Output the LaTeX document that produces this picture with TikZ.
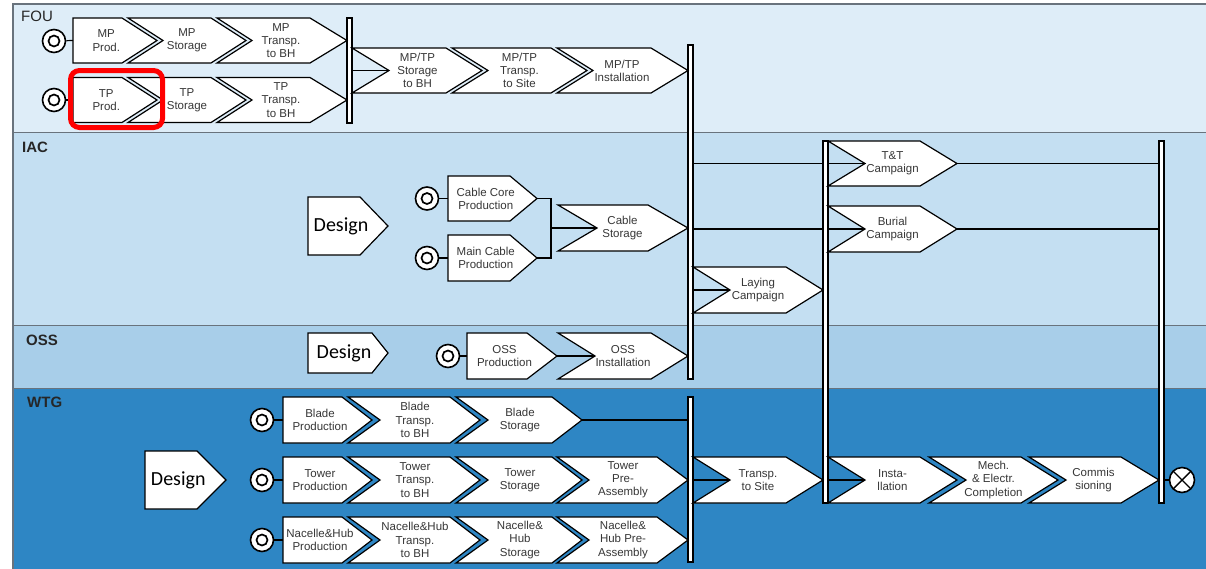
\documentclass[tikz,border=0pt]{standalone}
\usepackage{fontspec}
\setmainfont{Liberation Sans}
\newfontfamily\designfont{Carlito}
\definecolor{foubg}{RGB}{222,237,248}
\definecolor{iacbg}{RGB}{196,223,242}
\definecolor{ossbg}{RGB}{168,206,233}
\definecolor{wtgbg}{RGB}{46,134,196}
\definecolor{lanegray}{RGB}{105,115,125}
\definecolor{txtgray}{RGB}{55,55,55}
\tikzset{
  chevstyle/.style={draw=black, line width=1.2pt, fill=white, line join=miter},
  lbl/.style={align=center, inner sep=0pt, text=txtgray, font=\fontsize{11.5}{13.2}\selectfont},
  barbox/.style={draw=black, line width=1.2pt, fill=white, rectangle, inner sep=0pt, minimum width=5pt},
  conn/.style={draw=black, line width=1.2pt},
  startc/.style={circle, draw=black, line width=1.6pt, fill=white, minimum size=23pt, inner sep=0pt,
    path picture={\draw[line width=1.7pt] (path picture bounding box.center) circle[radius=5.5pt];}},
  endcirc/.style={circle, draw=black, line width=1.6pt, fill=white, minimum size=25pt, inner sep=0pt,
    path picture={\draw[line width=1.4pt] (path picture bounding box.north west) -- (path picture bounding box.south east)
      (path picture bounding box.north east) -- (path picture bounding box.south west);}},
  lanelbl/.style={anchor=west, inner sep=0pt, text=black!85, font=\fontsize{15}{15}\selectfont\bfseries},
  hilite/.style={draw=red, line width=5pt, rounded corners=9pt, inner sep=0pt, minimum width=92pt, minimum height=57pt},
  destext/.style={font=\designfont\fontsize{20}{21}\selectfont},
}
% flat-left chevron: name, L, tip, yc, half-height, tip depth, text
\newcommand\fchev[7]{%
  \draw[chevstyle] (#2,#4-#5) -- (#3-#6,#4-#5) -- (#3,#4) -- (#3-#6,#4+#5) -- (#2,#4+#5) -- cycle;
  \coordinate (#1-in) at (#2,#4);
  \coordinate (#1-tip) at (#3,#4);
  \node[lbl] (#1) at ({(#2+#3-#6/2)/2},#4) {#7};
}
% notched chevron: name, L, tip, yc, half-height, tip depth, notch depth, text
\newcommand\nchev[8]{%
  \draw[chevstyle] (#2,#4-#5) -- (#3-#6,#4-#5) -- (#3,#4) -- (#3-#6,#4+#5) -- (#2,#4+#5) -- (#2+#7,#4) -- cycle;
  \coordinate (#1-in) at (#2+#7,#4);
  \coordinate (#1-tip) at (#3,#4);
  \node[lbl] (#1) at ({(#2+#7+#3-#6)/2},#4) {#8};
}
\begin{document}
\begin{tikzpicture}[x=1pt,y=-1pt]
\useasboundingbox (0,0) rectangle (1206,568);
\clip (0,0) rectangle (1206,568);
% lanes
\fill[foubg] (13,4) rectangle (1206,132);
\fill[iacbg] (13,132) rectangle (1206,325);
\fill[ossbg] (13,325) rectangle (1206,388);
\fill[wtgbg] (13,388) rectangle (1206,570);
\draw[lanegray, line width=1pt] (13,132) -- (1206,132) (13,325) -- (1206,325) (13,388) -- (1206,388);
\draw[lanegray, line width=1.2pt] (13,570) -- (13,4) -- (1206,4);
\node[lanelbl, font=\fontsize{15}{15}\selectfont] (lfou) at (21,16) {FOU};
\node[lanelbl] (liac) at (22,147) {IAC};
\node[lanelbl] (loss) at (26,340) {OSS};
\node[lanelbl] (lwtg) at (27,402) {WTG};
% bars
\node[barbox, minimum height=105pt] (bar1) at (349.5,70.5) {};
\node[barbox, minimum height=334pt] (bar2) at (690.5,212) {};
\node[barbox, minimum height=165pt] (bar2b) at (690.5,479.5) {};
\node[barbox, minimum height=362pt] (bar3) at (825.5,322) {};
\node[barbox, minimum height=362pt] (bar4) at (1161.5,322) {};
% FOU
\fchev{mpprod}{73}{157}{40.5}{22.5}{35}{MP\\Prod.}
\nchev{mpstor}{128}{246}{40.5}{22.5}{35}{35}{MP\\Storage}
\nchev{mptr}{217}{347}{40.5}{22.5}{37}{35}{MP\\Transp.\\to BH}
\fchev{tpprod}{73}{157}{100}{22.5}{35}{TP\\Prod.}
\nchev{tpstor}{128}{246}{100}{22.5}{35}{35}{TP\\Storage}
\nchev{tptr}{217}{347}{100}{22.5}{37}{35}{TP\\Transp.\\to BH}
\nchev{mtstor}{352}{482}{70.5}{22.5}{36}{37}{MP/TP\\Storage\\to BH}
\nchev{mttr}{452}{587}{70.5}{22.5}{36}{36}{MP/TP\\Transp.\\to Site}
\nchev{mtinst}{557}{688}{70.5}{22.5}{37}{36}{MP/TP\\Installation}
\node[startc] (s1) at (54,41) {};
\node[startc] (s2) at (54,100) {};
% IAC
\fchev{des1}{308}{388}{226}{29}{28}{\designfont\fontsize{20}{21}\selectfont\color{black}Design}
\fchev{cc}{448}{537}{198.5}{22.5}{27}{Cable Core\\Production}
\fchev{mc}{448}{537}{258}{23}{27}{Main Cable\\Production}
\nchev{cs}{558}{688}{228}{23}{40}{39}{Cable\\Storage}
\nchev{tt}{828}{957}{163.5}{22.5}{37}{37}{T\&T\\Campaign}
\nchev{bur}{828}{957}{229}{23}{37}{37}{Burial\\Campaign}
\nchev{lay}{693}{823}{290}{23}{37}{37}{Laying\\Campaign}
\node[startc] (s3) at (427,198.5) {};
\node[startc] (s4) at (427,258) {};
\coordinate (jc) at (551,228);
% OSS
\fchev{des2}{308}{388}{353}{20}{16}{\designfont\fontsize{20}{21}\selectfont\color{black}Design}
\fchev{ossp}{467}{557}{356}{23}{30}{OSS\\Production}
\nchev{ossi}{558}{688}{356}{23}{37}{37}{OSS\\Installation}
\node[startc] (s5) at (448,356) {};
% WTG
\fchev{des3}{145}{226}{480}{29}{29}{\designfont\fontsize{20}{21}\selectfont\color{black}Design}
\fchev{bp}{283}{372}{420}{23}{30}{Blade\\Production}
\nchev{bt}{348}{480}{420}{23}{30}{32}{Blade\\Transp.\\to BH}
\nchev{bs}{456}{582}{420}{23}{30}{32}{Blade\\Storage}
\fchev{tp}{283}{372}{480}{23}{30}{Tower\\Production}
\nchev{ttr}{348}{480}{480}{23}{30}{32}{Tower\\Transp.\\to BH}
\nchev{ts}{456}{582}{480}{23}{30}{32}{Tower\\Storage}
\nchev{tpa}{557}{688}{480}{23}{31}{32}{Tower\\Pre-\\Assembly}
\fchev{np}{283}{372}{540}{23}{30}{Nacelle\&Hub\\Production}
\nchev{nt}{348}{480}{540}{23}{30}{32}{Nacelle\&Hub\\Transp.\\to BH}
\nchev{ns}{456}{582}{540}{23}{30}{32}{Nacelle\&\\Hub\\Storage}
\nchev{npa}{557}{688}{540}{23}{31}{32}{Nacelle\&\\Hub Pre-\\Assembly}
\nchev{tsite}{693}{823}{480}{23}{37}{37}{Transp.\\to Site}
\nchev{inst}{828}{957}{480}{23}{37}{37}{Insta-\\llation}
\nchev{mech}{929}{1058}{480}{23}{37}{37}{Mech.\\\& Electr.\\Completion}
\nchev{comm}{1029}{1159}{480}{23}{38}{37}{Commis\\sioning}
\node[startc] (s6) at (262,420) {};
\node[startc] (s7) at (262,480) {};
\node[startc] (s8) at (262,540) {};
\node[endcirc] (endc) at (1182,480) {};
% connectors
\draw[conn] (s1) -- (mpprod-in);
\draw[conn] (s2) -- (tpprod-in);
\draw[conn] (bar1.east |- mtstor-in) -- (mtstor-in);
\draw[conn] (s3) -- (cc-in);
\draw[conn] (s4) -- (mc-in);
\draw[conn] (cc-tip) -| (jc) |- (mc-tip);
\draw[conn] (jc) -- (cs-in);
\draw[conn] (bar2.east |- tt-in) -- (bar3.west |- tt-in);
\draw[conn] (bar3.east |- tt-in) -- (tt-in);
\draw[conn] (bar2.east |- bur-in) -- (bar3.west |- bur-in);
\draw[conn] (bar3.east |- bur-in) -- (bur-in);
\draw[conn] (bar2.east |- lay-in) -- (lay-in);
\draw[conn] (tt-tip) -- (bar4.west |- tt-tip);
\draw[conn] (bur-tip) -- (bar4.west |- bur-tip);
\draw[conn] (s5) -- (ossp-in);
\draw[conn] (ossp-tip) -- (ossi-in);
\draw[conn] (s6) -- (bp-in);
\draw[conn] (s7) -- (tp-in);
\draw[conn] (s8) -- (np-in);
\draw[conn] (bs-tip) -- (bar2b.west |- bs-tip);
\draw[conn] (bar2b.east |- tsite-in) -- (tsite-in);
\draw[conn] (bar3.east |- inst-in) -- (inst-in);
\draw[conn] (bar4.east |- endc) -- (endc);
% highlight
\node[hilite] (hl) at (116.5,99) {};
\end{tikzpicture}
\end{document}
